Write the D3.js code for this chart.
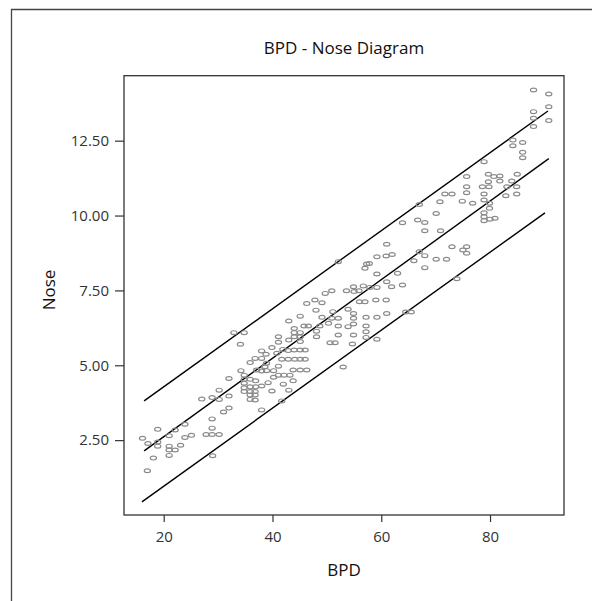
<!DOCTYPE html>
<html><head><meta charset="utf-8">
<script src="https://cdn.jsdelivr.net/npm/d3@7"></script>
<style>body{margin:0;background:#fff}text{font-family:"Open Sans","Noto Sans",sans-serif}</style>
</head><body><svg id="c" width="592" height="601"></svg>
<script>
const bpd = [27.0,28.9,30.2,30.2,32.0,32.0,31.0,32.0,28.9,28.9,23.9,22.1,18.9,16.1,17.1,18.9,18.9,21.0,23.9,25.1,27.8,28.9,30.2,21.0,21.0,22.1,23.1,21.0,18.1,17.0,29.0,
32.9,34.8,34.1,46.3,45.1,43.0,44.0,44.0,44.0,45.1,45.1,45.1,45.8,46.6,41.1,41.1,43.0,38.0,39.9,41.9,42.9,44.0,45.1,46.0,36.8,38.0,38.8,35.9,38.9,40.8,41.7,42.9,44.1,45.1,46.0,38.6,41.1,34.2,37.1,38.0,38.9,40.2,41.1,42.1,43.2,43.8,45.1,46.3,40.2,34.8,34.8,34.8,34.8,34.8,35.9,36.9,35.9,36.9,38.0,39.2,42.0,43.8,35.9,36.8,39.9,43.0,35.9,36.8,35.9,36.8,41.7,38.0,
52.1,61.0,57.0,57.8,59.2,60.9,59.2,61.0,56.7,57.9,59.2,53.6,54.9,55.0,55.9,56.0,57.0,59.0,60.9,49.7,50.9,47.8,49.1,48.0,51.1,53.9,49.1,50.9,52.1,54.9,54.9,61.0,57.2,59.2,50.3,48.7,52.1,53.9,54.9,57.2,48.1,48.1,52.1,54.9,57.2,57.2,59.2,50.6,51.5,54.7,
75.7,75.7,75.7,71.7,73.0,70.8,74.9,67.0,70.1,63.9,66.7,68.0,68.0,70.9,62.0,57.3,61.9,63.9,63.0,67.0,68.0,66.0,68.0,70.1,72.0,73.0,75.0,75.7,75.7,73.9,
88.0,90.8,90.8,88.0,88.0,88.0,90.8,84.2,84.2,86.0,86.0,86.0,78.9,79.7,80.7,81.8,81.8,85.0,84.0,79.7,78.6,79.8,83.1,84.9,76.8,78.9,78.9,82.9,84.9,79.9,79.9,78.9,78.9,78.9,80.0,80.9,
53.0,64.5,65.5];
const nose = [3.87,3.92,4.17,3.86,4.56,3.97,3.44,3.57,3.21,2.90,3.03,2.84,2.86,2.56,2.39,2.44,2.30,2.65,2.59,2.66,2.69,2.69,2.69,2.30,2.17,2.17,2.33,1.99,1.90,1.48,1.98,
6.09,6.09,5.70,7.06,6.64,6.48,6.23,6.09,5.95,6.09,5.95,5.79,6.31,6.31,5.95,5.77,5.84,5.48,5.59,5.53,5.49,5.51,5.51,5.51,5.23,5.23,5.37,5.09,5.07,5.40,5.20,5.20,5.20,5.20,5.20,4.95,4.97,4.82,4.84,4.81,4.82,4.82,4.67,4.67,4.67,4.84,4.84,4.84,4.60,4.67,4.53,4.40,4.25,4.12,4.53,4.48,4.28,4.28,4.31,4.42,4.37,4.48,4.12,4.12,4.14,4.17,4.01,4.01,3.86,3.84,3.81,3.51,
8.46,9.04,8.24,8.40,8.62,8.65,8.05,7.79,7.65,7.60,7.60,7.49,7.62,7.46,7.49,7.12,7.12,7.18,7.18,7.40,7.49,7.18,7.09,6.84,6.79,6.87,6.60,6.57,6.57,6.73,6.57,6.73,6.60,6.60,6.40,6.31,6.31,6.29,6.38,6.31,6.14,5.95,6.01,6.01,6.12,5.93,5.87,5.75,5.75,5.71,
11.30,10.96,10.76,10.72,10.72,10.46,10.48,10.37,10.07,9.76,9.85,9.77,9.49,9.49,8.70,8.38,7.62,7.68,8.07,8.79,8.66,8.49,8.26,8.54,8.54,8.96,8.85,8.96,8.74,7.89,
14.19,14.06,13.63,13.47,13.25,12.97,13.17,12.52,12.33,12.44,12.11,11.93,11.80,11.38,11.30,11.32,11.15,11.38,11.15,11.13,10.96,10.96,10.96,10.96,10.41,10.72,10.52,10.66,10.72,10.41,10.24,10.09,9.96,9.83,9.88,9.91,
4.94,6.78,6.78];
const xTicks = [20,40,60,80];
const yTicks = [2.5,5,7.5,10,12.5];
const lineX0 = [16.4,16.4,16.0];
const lineY0 = [3.81,2.14,0.44];
const lineX1 = [90.65,90.8,90.1];
const lineY1 = [13.49,11.9,10.09];
const titleText = "BPD - Nose Diagram";
const xTitle = "BPD", yTitle = "Nose";

const svg = d3.select("#c");
const L=124, R=564, T=75.7, B=515;
const x = d3.scaleLinear().domain([12.7,93.6]).range([L,R]);
const y = d3.scaleLinear().domain([0,14.67]).range([B,T]);

svg.append("path").attr("d","M11.5,601V9.5H592").attr("fill","none").attr("stroke","#444").attr("stroke-width",1.3);

const xa = svg.append("g").attr("transform",`translate(0,${B})`)
  .call(d3.axisBottom(x).tickValues(xTicks).tickFormat(d3.format("d")).tickSize(7).tickPadding(9));
const ya = svg.append("g").attr("transform",`translate(${L},0)`)
  .call(d3.axisLeft(y).tickValues(yTicks).tickFormat(d3.format(".2f")).tickSize(9).tickPadding(6));
[xa,ya].forEach(a=>{a.select(".domain").remove();a.selectAll("line").attr("stroke","#333").attr("stroke-width",1.2);
  a.selectAll("text").attr("font-size",15).attr("fill","#333").style("font-family",'"Open Sans",sans-serif');});

svg.append("rect").attr("x",L).attr("y",T).attr("width",R-L).attr("height",B-T).attr("fill","none").attr("stroke","#333").attr("stroke-width",1.3);

svg.append("g").selectAll("line").data(lineX0).join("line")
  .attr("x1",(d,i)=>x(lineX0[i])).attr("y1",(d,i)=>y(lineY0[i]))
  .attr("x2",(d,i)=>x(lineX1[i])).attr("y2",(d,i)=>y(lineY1[i]))
  .attr("stroke","#000").attr("stroke-width",1.4);

svg.append("g").selectAll("ellipse").data(bpd).join("ellipse")
  .attr("cx",(d)=>x(d)).attr("cy",(d,i)=>y(nose[i])).attr("rx",3.1).attr("ry",1.9)
  .attr("fill","none").attr("stroke","#8a8a8a").attr("stroke-width",1.2);

svg.append("text").attr("x",(L+R)/2).attr("y",54).attr("text-anchor","middle").attr("font-size",17).attr("fill","#111").text(titleText);
svg.append("text").attr("x",(L+R)/2).attr("y",576).attr("text-anchor","middle").attr("font-size",17).attr("fill","#111").text(xTitle);
svg.append("text").attr("transform","translate(55,290) rotate(-90)").attr("text-anchor","middle").attr("font-size",17).attr("fill","#111").text(yTitle);
</script></body></html>
